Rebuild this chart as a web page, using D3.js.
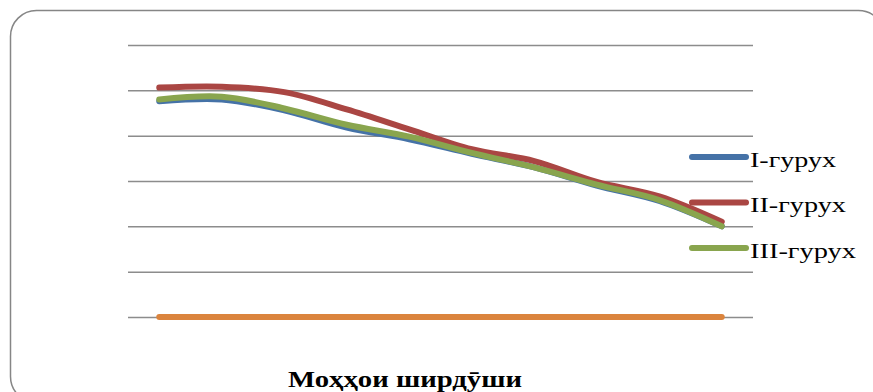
<!DOCTYPE html>
<html>
<head>
<meta charset="utf-8">
<script src="https://cdn.jsdelivr.net/npm/d3@7"></script>
<style>
  html, body { margin: 0; padding: 0; background: #fff; }
  svg { display: block; }
</style>
</head>
<body>
<svg id="chart" width="873" height="392"></svg>
<script>
// Lactation months (10) and average daily yield per group
const months = [1, 2, 3, 4, 5, 6, 7, 8, 9, 10];
const group1 = [23.8, 24.0, 22.8, 20.9, 19.6, 18.0, 16.5, 14.5, 12.8, 10.0];
const group2 = [25.3, 25.4, 24.8, 22.9, 20.7, 18.5, 17.2, 14.9, 13.3, 10.5];
const group3 = [24.0, 24.3, 23.0, 21.2, 19.9, 18.1, 16.5, 14.6, 12.9, 10.0];
const group4 = [0, 0, 0, 0, 0, 0, 0, 0, 0, 0];
const yTicks = [0, 5, 10, 15, 20, 25, 30];

const seriesNames = ["I-гурух", "II-гурух", "III-гурух", ""];
const seriesColors = ["#4572A7", "#AA4643", "#89A54E", "#DB843D"];
const seriesValues = [group1, group2, group3, group4];
const title = "Моҳҳои ширдӯши";

const serif = "'Liberation Serif', 'Times New Roman', 'DejaVu Serif', serif";
const svg = d3.select("#chart");

// Chart frame
svg.append("rect")
  .attr("x", 10.5).attr("y", 10.5)
  .attr("width", 874).attr("height", 392)
  .attr("rx", 26).attr("ry", 26)
  .attr("fill", "#fff")
  .attr("stroke", "#868686")
  .attr("stroke-width", 1.5);

const plot = { left: 128, right: 753, top: 45, bottom: 317 };

const x = d3.scaleBand()
  .domain(months)
  .range([plot.left, plot.right])
  .paddingInner(0).paddingOuter(0);

const y = d3.scaleLinear()
  .domain([0, 30])
  .range([plot.bottom, plot.top]);

// Horizontal gridlines
const yAxis = d3.axisLeft(y)
  .tickValues(yTicks)
  .tickSize(-(plot.right - plot.left))
  .tickFormat("");

const gAxis = svg.append("g")
  .attr("transform", `translate(${plot.left},0)`)
  .call(yAxis);
gAxis.select(".domain").remove();
gAxis.selectAll(".tick line")
  .attr("stroke", "#8c8c8c")
  .attr("stroke-width", 1.5);

// Smoothed series lines
const line = d3.line()
  .x((d, i) => x(months[i]) + x.bandwidth() / 2)
  .y(d => y(d))
  .curve(d3.curveCatmullRom.alpha(0.5));

// Orange first so it sits under, then blue, red, green
const order = [3, 0, 1, 2];
svg.append("g").selectAll("path")
  .data(order)
  .join("path")
  .attr("d", k => line(seriesValues[k]))
  .attr("fill", "none")
  .attr("stroke", k => seriesColors[k])
  .attr("stroke-width", 6)
  .attr("stroke-linecap", "round")
  .attr("stroke-linejoin", "round");

// Legend
const legendY = d3.scalePoint()
  .domain([0, 1, 2])
  .range([157, 248]);
const legendTextWidth = [86, 96, 106];

const legend = svg.append("g");
const items = legend.selectAll("g")
  .data([0, 1, 2])
  .join("g")
  .attr("transform", k => `translate(0,${legendY(k)})`);

items.append("line")
  .attr("x1", 692).attr("x2", 746)
  .attr("y1", 0).attr("y2", 0)
  .attr("stroke", k => seriesColors[k])
  .attr("stroke-width", 6)
  .attr("stroke-linecap", "round");

items.append("text")
  .attr("x", 750)
  .attr("y", 9.5)
  .attr("font-family", serif)
  .attr("font-size", 20)
  .attr("fill", "#000")
  .attr("textLength", k => legendTextWidth[k])
  .attr("lengthAdjust", "spacingAndGlyphs")
  .text(k => seriesNames[k]);

// Axis title
svg.append("text")
  .attr("x", 288)
  .attr("y", 387)
  .attr("font-family", serif)
  .attr("font-weight", "bold")
  .attr("font-size", 23.5)
  .attr("fill", "#000")
  .attr("textLength", 234)
  .attr("lengthAdjust", "spacingAndGlyphs")
  .text(title);
</script>
</body>
</html>
